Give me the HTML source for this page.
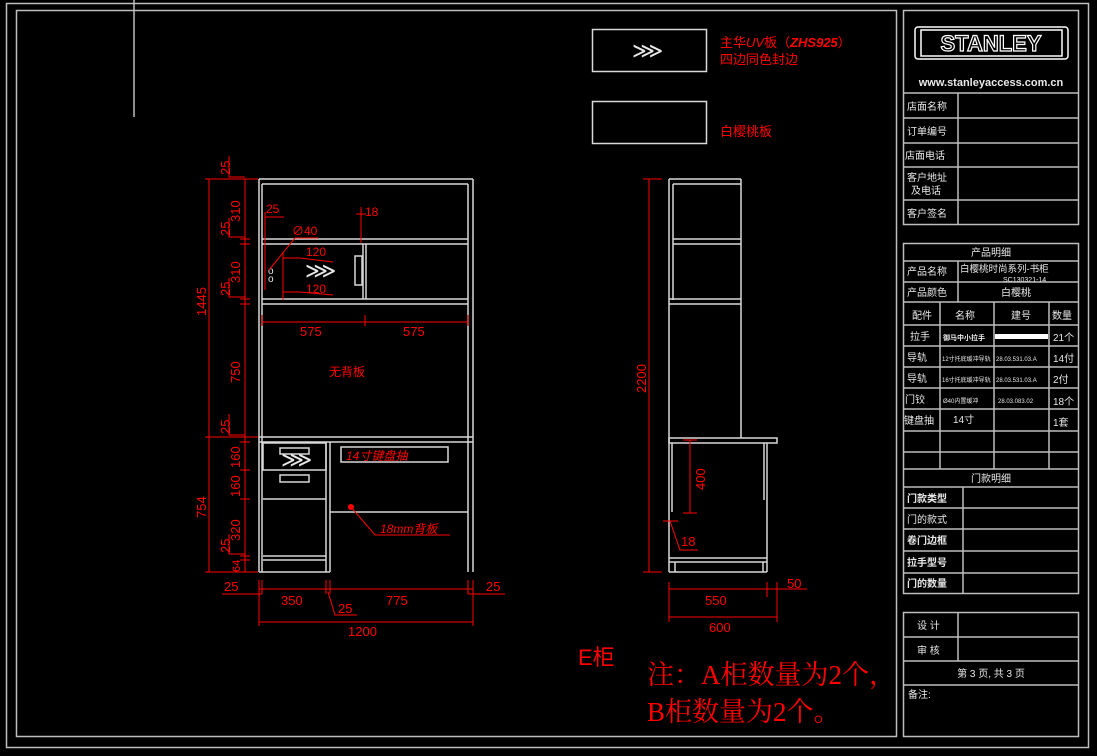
<!DOCTYPE html>
<html><head><meta charset="utf-8"><style>
html,body{margin:0;padding:0;background:#000;width:1097px;height:756px;overflow:hidden}
svg{display:block}
text{font-family:"Liberation Sans","Noto Sans CJK SC",sans-serif}
.w{stroke:#d8d8d8;stroke-width:1.5;fill:none}
.g{stroke:#bdbdbd;stroke-width:1.5;fill:none}
.r{stroke:#f00;stroke-width:1;fill:none}
.rt{fill:#f00;font-size:13px}
.wt{fill:#e8e8e8;font-size:11px}
</style></head><body>
<svg width="1097" height="756" viewBox="0 0 1097 756">
<!-- frames -->
<rect x="6.5" y="3.5" width="1082" height="744" class="g"/>
<rect x="16.5" y="10.5" width="880" height="726" class="g"/>
<line x1="134" y1="0" x2="134" y2="117" class="g"/>

<!-- legend -->
<rect x="592.5" y="29.5" width="114" height="42" class="w"/>
<text x="632" y="58" class="wt" style="font-size:22px">⋙</text>
<rect x="592.5" y="101.5" width="114" height="42" class="w"/>
<text x="720" y="47" class="rt">主华<tspan font-style="italic">UV</tspan>板（<tspan font-style="italic" font-weight="bold">ZHS925</tspan>）</text>
<text x="720" y="64" class="rt">四边同色封边</text>
<text x="720" y="136" class="rt">白樱桃板</text>

<!-- FRONT VIEW -->
<g class="w">
<line x1="259" y1="179" x2="259" y2="572"/><line x1="262" y1="184" x2="262" y2="572"/>
<line x1="468" y1="184" x2="468" y2="572"/><line x1="473" y1="179" x2="473" y2="572"/>
<line x1="259" y1="179" x2="473" y2="179"/><line x1="262" y1="184" x2="468" y2="184"/>
<line x1="262" y1="239" x2="468" y2="239"/><line x1="262" y1="244" x2="468" y2="244"/>
<line x1="262" y1="299" x2="468" y2="299"/><line x1="262" y1="304" x2="468" y2="304"/>
<line x1="363" y1="244" x2="363" y2="299"/><line x1="366" y1="244" x2="366" y2="299"/>
<rect x="355" y="256" width="7" height="29"/>
<line x1="259" y1="437" x2="473" y2="437"/><line x1="259" y1="442" x2="473" y2="442"/>
<rect x="263" y="443" width="63" height="27"/>
<line x1="263" y1="499" x2="326" y2="499"/>
<line x1="263" y1="556" x2="326" y2="556"/><line x1="263" y1="560" x2="326" y2="560"/>
<line x1="326" y1="442" x2="326" y2="572"/><line x1="330" y1="442" x2="330" y2="572"/>
<line x1="259" y1="572" x2="330" y2="572"/>
<rect x="280" y="448" width="29" height="6"/>
<rect x="280" y="475" width="29" height="7"/>
<rect x="341" y="447" width="107" height="15"/>
<line x1="330" y1="512" x2="468" y2="512"/>
</g>
<text x="305" y="278" class="wt" style="font-size:22px">⋙</text>
<text x="281" y="467" class="wt" style="font-size:22px">⋙</text>
<text x="268" y="274" class="wt" style="font-size:10px">o</text>
<text x="268" y="282" class="wt" style="font-size:10px">o</text>
<text x="346" y="460" class="rt" style="font-size:12px;font-style:italic">14寸键盘抽</text>
<text x="329" y="376" class="rt" style="font-size:12px">无背板</text>
<circle cx="351" cy="507" r="3" fill="#f00"/>
<polyline points="351,507 375,535 450,535" class="r"/>
<text x="380" y="533" class="rt" style="font-size:12px;font-style:italic">18mm背板</text>

<!-- front dims -->
<g class="r">
<line x1="209" y1="179" x2="209" y2="572"/>
<line x1="245" y1="179" x2="245" y2="572"/>
<line x1="205" y1="179" x2="258" y2="179"/><line x1="205" y1="437" x2="258" y2="437"/><line x1="205" y1="572" x2="258" y2="572"/>
<line x1="240" y1="239" x2="250" y2="239"/><line x1="240" y1="244" x2="250" y2="244"/>
<line x1="240" y1="299" x2="250" y2="299"/><line x1="240" y1="304" x2="250" y2="304"/>
<line x1="240" y1="442" x2="250" y2="442"/><line x1="240" y1="470" x2="250" y2="470"/>
<line x1="240" y1="499" x2="250" y2="499"/><line x1="240" y1="556" x2="250" y2="556"/><line x1="240" y1="560" x2="250" y2="560"/>
<polyline points="229,156 229,177 245,177"/><polyline points="229,218 229,237 245,237"/><polyline points="229,278 229,297 245,297"/>
<polyline points="229,414 229,435 245,435"/><polyline points="229,534 229,554 245,554"/>
<line x1="262" y1="322" x2="468" y2="322"/><line x1="262" y1="315" x2="262" y2="326"/><line x1="365" y1="315" x2="365" y2="326"/><line x1="468" y1="315" x2="468" y2="326"/>
<line x1="259" y1="589" x2="473" y2="589"/><line x1="222" y1="594" x2="262" y2="594"/><line x1="468" y1="594" x2="505" y2="594"/>
<line x1="259" y1="580" x2="259" y2="626"/><line x1="262" y1="580" x2="262" y2="594"/><line x1="326" y1="580" x2="326" y2="594"/><line x1="330" y1="580" x2="330" y2="594"/>
<line x1="468" y1="580" x2="468" y2="594"/><line x1="473" y1="580" x2="473" y2="626"/>
<polyline points="328,592 335,615 357,615"/>
<line x1="259" y1="622" x2="473" y2="622"/>
<polyline points="265,212 265,217 284,217"/><line x1="265" y1="217" x2="265" y2="290"/>
<polyline points="269,270 295,238 318,238"/>
<polyline points="283,252 283,300"/><polyline points="283,258 300,258 333,262"/><polyline points="283,292 300,292 333,295"/>
<line x1="361" y1="207" x2="361" y2="243"/><line x1="356" y1="214" x2="366" y2="214"/>
</g>
<g class="rt" style="font-size:13px">
<text transform="translate(206,316) rotate(-90)">1445</text>
<text transform="translate(206,518) rotate(-90)">754</text>
<text transform="translate(230,175) rotate(-90)">25</text>
<text transform="translate(240,222) rotate(-90)">310</text>
<text transform="translate(230,236) rotate(-90)">25</text>
<text transform="translate(240,283) rotate(-90)">310</text>
<text transform="translate(230,296) rotate(-90)">25</text>
<text transform="translate(240,383) rotate(-90)">750</text>
<text transform="translate(230,434) rotate(-90)">25</text>
<text transform="translate(240,468) rotate(-90)">160</text>
<text transform="translate(240,497) rotate(-90)">160</text>
<text transform="translate(240,541) rotate(-90)">320</text>
<text transform="translate(230,553) rotate(-90)">25</text>
<text transform="translate(240,572) rotate(-90)" style="font-size:11px">64</text>
<text x="300" y="336">575</text><text x="403" y="336">575</text>
<text x="224" y="591">25</text><text x="281" y="605">350</text><text x="338" y="613">25</text>
<text x="386" y="605">775</text><text x="486" y="591">25</text><text x="348" y="636">1200</text>
<text x="266" y="213" style="font-size:12px">25</text><text x="292" y="235" style="font-size:12px">∅40</text>
<text x="306" y="256" style="font-size:12px">120</text><text x="306" y="293" style="font-size:12px">120</text>
<text x="365" y="216" style="font-size:12px">18</text>
</g>

<!-- SIDE VIEW -->
<g class="w">
<line x1="669" y1="179" x2="669" y2="572"/><line x1="673" y1="184" x2="673" y2="300"/>
<line x1="669" y1="179" x2="741" y2="179"/><line x1="741" y1="179" x2="741" y2="438"/>
<line x1="673" y1="184" x2="741" y2="184"/>
<line x1="673" y1="239" x2="741" y2="239"/><line x1="673" y1="244" x2="741" y2="244"/>
<line x1="669" y1="299" x2="741" y2="299"/><line x1="669" y1="304" x2="741" y2="304"/>
<rect x="669" y="438" width="108" height="5"/>
<line x1="672" y1="443" x2="672" y2="512"/>
<line x1="764" y1="443" x2="764" y2="500"/><line x1="767" y1="443" x2="767" y2="572"/>
<line x1="669" y1="558" x2="767" y2="558"/><line x1="669" y1="562" x2="767" y2="562"/>
<line x1="669" y1="572" x2="767" y2="572"/>
<line x1="675" y1="562" x2="675" y2="572"/><line x1="763" y1="562" x2="763" y2="572"/>
</g>
<g class="r">
<line x1="649" y1="179" x2="649" y2="572"/><line x1="643" y1="179" x2="662" y2="179"/><line x1="643" y1="572" x2="662" y2="572"/>
<line x1="690" y1="440" x2="690" y2="513"/><line x1="683" y1="440" x2="697" y2="440"/><line x1="683" y1="513" x2="697" y2="513"/>
<polyline points="670,521 680,550 698,550"/><line x1="663" y1="521" x2="678" y2="521"/>
<line x1="669" y1="589" x2="767" y2="589"/><line x1="767" y1="589" x2="807" y2="589"/>
<line x1="669" y1="582" x2="669" y2="622"/><line x1="767" y1="582" x2="767" y2="597"/><line x1="777" y1="582" x2="777" y2="622"/>
<line x1="669" y1="617" x2="777" y2="617"/>
</g>
<g class="rt" style="font-size:13px">
<text transform="translate(646,393) rotate(-90)">2200</text>
<text transform="translate(705,490) rotate(-90)">400</text>
<text x="681" y="546">18</text>
<text x="705" y="605">550</text><text x="787" y="588">50</text><text x="709" y="632">600</text>
</g>

<text x="578" y="665" class="rt" style="font-size:22px;font-family:'Liberation Sans','Noto Sans CJK SC',sans-serif">E柜</text>
<text x="647" y="684" class="rt" style="font-size:27px;font-family:'Liberation Serif','Noto Serif CJK SC',serif">注：A柜数量为2个，</text>
<text x="647" y="721" class="rt" style="font-size:27px;font-family:'Liberation Serif','Noto Serif CJK SC',serif">B柜数量为2个。</text>

<!-- TITLE BLOCK -->
<g class="g">
<rect x="903.5" y="10.5" width="175" height="214"/>
<line x1="903" y1="93" x2="1079" y2="93"/><line x1="903" y1="118" x2="1079" y2="118"/>
<line x1="903" y1="143" x2="1079" y2="143"/><line x1="903" y1="167" x2="1079" y2="167"/>
<line x1="903" y1="200" x2="1079" y2="200"/><line x1="958" y1="93" x2="958" y2="225"/>
<rect x="915" y="27" width="153" height="32" rx="3" style="stroke:#fff"/>
<rect x="921" y="30" width="141" height="26" style="stroke:#fff"/>
</g>
<text x="991" y="51" text-anchor="middle" style="font-size:22px;font-weight:bold;fill:#000;stroke:#fff;stroke-width:1.2;font-family:'Liberation Sans',sans-serif">STANLEY</text>
<text x="991" y="86" text-anchor="middle" class="wt" style="font-size:11px;font-weight:bold">www.stanleyaccess.com.cn</text>
<g class="wt" style="font-size:10px">
<text x="907" y="110">店面名称</text><text x="907" y="135">订单编号</text><text x="905" y="159">店面电话</text>
<text x="907" y="181">客户地址</text><text x="911" y="194">及电话</text><text x="907" y="217">客户签名</text>
</g>

<g class="g">
<rect x="903.5" y="243.5" width="175" height="350"/>
<line x1="903" y1="261" x2="1079" y2="261"/><line x1="903" y1="282" x2="1079" y2="282"/>
<line x1="903" y1="302" x2="1079" y2="302"/><line x1="903" y1="325" x2="1079" y2="325"/>
<line x1="903" y1="346" x2="1079" y2="346"/><line x1="903" y1="367" x2="1079" y2="367"/>
<line x1="903" y1="388" x2="1079" y2="388"/><line x1="903" y1="409" x2="1079" y2="409"/>
<line x1="903" y1="431" x2="1079" y2="431"/><line x1="903" y1="452" x2="1079" y2="452"/>
<line x1="903" y1="469" x2="1079" y2="469"/><line x1="903" y1="487" x2="1079" y2="487"/>
<line x1="903" y1="508" x2="1079" y2="508"/><line x1="903" y1="529" x2="1079" y2="529"/>
<line x1="903" y1="551" x2="1079" y2="551"/><line x1="903" y1="573" x2="1079" y2="573"/>
<line x1="958" y1="261" x2="958" y2="302"/>
<line x1="940" y1="302" x2="940" y2="469"/><line x1="994" y1="302" x2="994" y2="469"/><line x1="1049" y1="302" x2="1049" y2="469"/>
<line x1="963" y1="487" x2="963" y2="593"/>
</g>
<rect x="995" y="334" width="53" height="5" fill="#fff"/>
<g class="wt" style="font-size:10px">
<text x="991" y="256" text-anchor="middle">产品明细</text>
<text x="907" y="275">产品名称</text><text x="960" y="272" style="font-size:9.5px">白樱桃时尚系列-书柜</text>
<text x="1003" y="282" style="font-size:7px">SC130321-14</text>
<text x="907" y="296">产品颜色</text><text x="1016" y="296" text-anchor="middle">白樱桃</text>
<text x="912" y="319">配件</text><text x="955" y="319">名称</text><text x="1011" y="319">建号</text><text x="1052" y="319">数量</text>
<text x="910" y="340">拉手</text><text x="943" y="340" style="font-size:7px;font-weight:bold">御马中小拉手</text><text x="1053" y="341">21个</text>
<text x="907" y="361">导轨</text><text x="942" y="361" style="font-size:6px">12寸托底缓冲导轨</text><text x="996" y="361" style="font-size:6px">28.03.531.03.A</text><text x="1053" y="362">14付</text>
<text x="907" y="382">导轨</text><text x="942" y="382" style="font-size:6px">16寸托底缓冲导轨</text><text x="996" y="382" style="font-size:6px">28.03.531.03.A</text><text x="1053" y="383">2付</text>
<text x="905" y="403">门铰</text><text x="943" y="403" style="font-size:6px">Ø40内置缓冲</text><text x="998" y="403" style="font-size:6px">28.03.083.02</text><text x="1053" y="405">18个</text>
<text x="904" y="424">键盘抽</text><text x="953" y="423">14寸</text><text x="1053" y="426">1套</text>
<text x="991" y="482" text-anchor="middle">门款明细</text>
<text x="907" y="502" style="font-weight:bold">门款类型</text><text x="907" y="523">门的款式</text>
<text x="907" y="544" style="font-weight:bold">卷门边框</text><text x="907" y="566" style="font-weight:bold">拉手型号</text><text x="907" y="587" style="font-weight:bold">门的数量</text>
</g>

<g class="g">
<rect x="903.5" y="612.5" width="175" height="124"/>
<line x1="903" y1="637" x2="1079" y2="637"/><line x1="903" y1="661" x2="1079" y2="661"/>
<line x1="903" y1="685" x2="1079" y2="685"/><line x1="958" y1="612" x2="958" y2="661"/>
</g>
<g class="wt" style="font-size:10px">
<text x="917" y="629">设 计</text><text x="917" y="654">审 核</text>
<text x="991" y="677" text-anchor="middle">第 3 页, 共 3 页</text>
<text x="908" y="698">备注:</text>
</g>
</svg>
</body></html>
